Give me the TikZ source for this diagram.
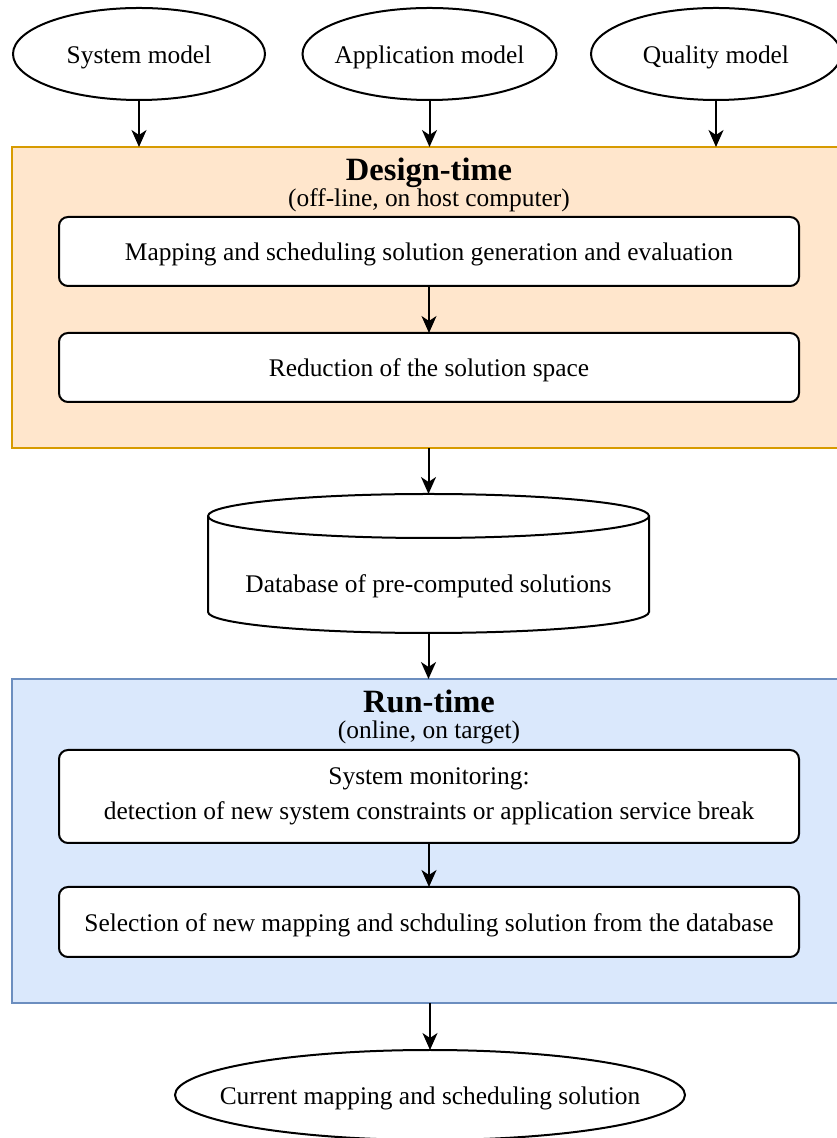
\documentclass[tikz,border=0pt]{standalone}
\usepackage{fontspec}
\setmainfont{Liberation Serif}
\usetikzlibrary{shapes.geometric,arrows.meta}
\definecolor{dfill}{HTML}{FFE6CC}
\definecolor{ddraw}{HTML}{D79B00}
\definecolor{rfill}{HTML}{DAE8FC}
\definecolor{rdraw}{HTML}{6C8EBF}
\newcommand\txtsize{\fontsize{25.4}{34.5}\selectfont}
\newcommand\ttlsize{\fontsize{32.5}{36}\selectfont}
\tikzset{
  every node/.style={inner sep=0pt, outer sep=0pt},
  model/.style={ellipse, draw=black, line width=2pt, fill=white},
  mlabel/.style={font=\txtsize, text height=25pt, text depth=5pt},
  container/.style={rectangle, line width=2pt, anchor=north west},
  stepbox/.style={rectangle, rounded corners=9pt, draw=black, line width=2pt, fill=white,
     minimum width=740pt, font=\txtsize, align=center},
  onel/.style={text height=24pt, text depth=5pt},
  ttl/.style={font=\ttlsize\bfseries, anchor=base},
  sub/.style={font=\txtsize, anchor=base},
  arr/.style={line width=2pt, -{Stealth[length=17pt, width=15pt, inset=5pt]}},
}
\begin{document}
\begin{tikzpicture}[x=1pt,y=1pt]
\useasboundingbox (0,0) rectangle (837,1138);
\clip (0,0) rectangle (837,1138);
% top models
\node[model, minimum width=252pt, minimum height=92pt, label={[mlabel]center:System model}] (sys) at (139,1084) {};
\node[model, minimum width=254pt, minimum height=92pt, label={[mlabel]center:Application model}] (app) at (429.5,1084) {};
\node[model, minimum width=250pt, minimum height=92pt, label={[mlabel]center:Quality model}] (qual) at (716,1084) {};
% design-time container
\node[container, fill=dfill, draw=ddraw, minimum width=840pt, minimum height=301pt] (design) at (12,991) {};
\node[ttl] (dtitle) at (429,957) {Design-time};
\node[sub] (dsub) at (429,931.5) {(off-line, on host computer)};
\node[stepbox, onel, minimum height=69pt] (gen) at (429,886.5) {Mapping and scheduling solution generation and evaluation};
\node[stepbox, onel, minimum height=69pt] (red) at (429,770.5) {Reduction of the solution space};
% database
\node[minimum width=441pt, minimum height=139pt] (db) at (428.5,574.5) {};
\draw[line width=2pt, fill=white] (db.north west) ++(0,-22)
   -- ++(0,-96) arc[start angle=180, end angle=360, x radius=220.5, y radius=21]
   -- ++(0,96) arc[start angle=0, end angle=180, x radius=220.5, y radius=22] -- cycle;
\draw[line width=2pt] (db.north west) ++(0,-22) arc[start angle=180, end angle=360, x radius=220.5, y radius=22];
\node[font=\txtsize, onel] (dbtext) at (428.5,555) {Database of pre-computed solutions};
% run-time container
\node[container, fill=rfill, draw=rdraw, minimum width=840pt, minimum height=324pt] (run) at (12,459) {};
\node[ttl] (rtitle) at (429,425) {Run-time};
\node[sub] (rsub) at (429,399.5) {(online, on target)};
\node[stepbox, minimum height=93pt] (mon) at (429,341.5) {System monitoring:\\detection of new system constraints or application service break};
\node[stepbox, onel, minimum height=70pt] (sel) at (429,216) {Selection of new mapping and schduling solution from the database};
% result
\node[model, minimum width=510pt, minimum height=90pt, label={[mlabel]center:Current mapping and scheduling solution}] (cur) at (430,43) {};
% connectors
\draw[arr] (sys.south) -- (sys.south |- design.north);
\draw[arr] (app.south) -- (app.south |- design.north);
\draw[arr] (qual.south) -- (qual.south |- design.north);
\draw[arr] (gen.south) -- (red.north);
\draw[arr] (db.north |- design.south) -- (db.north);
\draw[arr] (db.south) -- (db.south |- run.north);
\draw[arr] (mon.south) -- (sel.north);
\draw[arr] (cur.north |- run.south) -- (cur.north);
\end{tikzpicture}
\end{document}
